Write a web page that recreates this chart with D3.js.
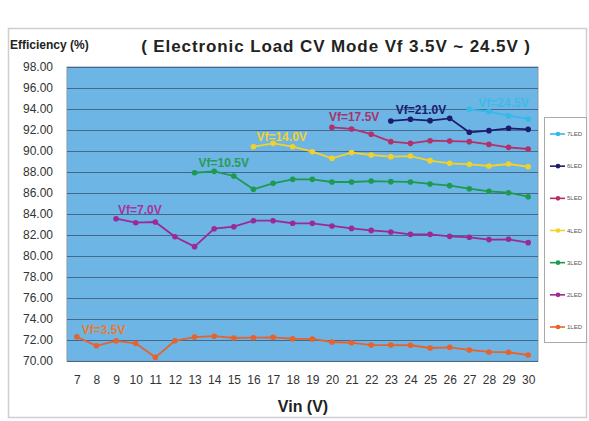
<!DOCTYPE html>
<html>
<head>
<meta charset="utf-8">
<script src="https://cdn.jsdelivr.net/npm/d3@7"></script>
<style>
  body { margin: 0; background: #fff; }
  svg { display: block; font-family: "Liberation Sans", Arial, sans-serif; }
</style>
</head>
<body>
<svg id="chart" width="589" height="421"></svg>
<script>
// Vin categories (V)
var vin = [7, 8, 9, 10, 11, 12, 13, 14, 15, 16, 17, 18, 19, 20, 21, 22, 23, 24, 25, 26, 27, 28, 29, 30];
var yTicks = [70, 72, 74, 76, 78, 80, 82, 84, 86, 88, 90, 92, 94, 96, 98];

// efficiency (%) per LED string, each starts at its own Vin
var led1 = [72.30, 71.45, 71.92, 71.68, 70.35, 71.92, 72.28, 72.36, 72.19, 72.22, 72.25, 72.12,
            72.10, 71.81, 71.74, 71.52, 71.52, 71.50, 71.24, 71.30, 71.05, 70.86, 70.83, 70.57];
var led2 = [83.55, 83.17, 83.24, 81.84, 80.89, 82.60, 82.79, 83.36, 83.36, 83.12, 83.11,
            82.86, 82.63, 82.44, 82.29, 82.06, 82.06, 81.87, 81.78, 81.56, 81.59, 81.27];
var led3 = [87.93, 88.06, 87.62, 86.35, 86.92, 87.30, 87.30, 87.05, 87.05, 87.14, 87.08,
            87.05, 86.86, 86.70, 86.41, 86.16, 86.03, 85.65];
var led4 = [90.41, 90.73, 90.41, 89.93, 89.30, 89.85, 89.62, 89.46, 89.52, 89.08, 88.83,
            88.73, 88.57, 88.76, 88.50];
var led5 = [92.25, 92.10, 91.60, 90.89, 90.73, 90.98, 90.95, 90.89, 90.63, 90.35, 90.19];
var led6 = [92.86, 93.02, 92.89, 93.11, 91.78, 91.94, 92.16, 92.06];
var led7 = [93.97, 93.75, 93.36, 93.05];

var seriesNames = ["1LED", "2LED", "3LED", "4LED", "5LED", "6LED", "7LED"];
var seriesStart = [7, 9, 13, 16, 20, 23, 27];
var seriesLabels = ["Vf=3.5V", "Vf=7.0V", "Vf=10.5V", "Vf=14.0V", "Vf=17.5V", "Vf=21.0V", "Vf=24.5V"];
var seriesValues = [led1, led2, led3, led4, led5, led6, led7];

// styling
var colors = ["#e8622c", "#9c2a96", "#1e9a4e", "#f2d22a", "#b4306a", "#1c1c6e", "#35b9e8"];
var labelColors = ["#ec7a30", "#a8339e", "#2a9a58", "#f0d230", "#a8336a", "#1c1c6e", "#3dbbe8"];
var labelOffset = [[5, 3], [2, 5], [4, 6], [3, 6], [-3, 6], [5, 7], [9, 2]];

var svg = d3.select("#chart");
var plot = { left: 67, right: 538, top: 67, bottom: 361 };

// outer frame
svg.append("rect")
  .attr("x", 8.5).attr("y", 28.5).attr("width", 578).attr("height", 389)
  .attr("fill", "none").attr("stroke", "#cfcfcf").attr("stroke-width", 1.5);

var x = d3.scalePoint().domain(vin).range([plot.left, plot.right]).padding(0.5);
var y = d3.scaleLinear().domain([70, 98]).range([plot.bottom, plot.top]);

svg.append("rect")
  .attr("x", plot.left).attr("y", plot.top)
  .attr("width", plot.right - plot.left).attr("height", plot.bottom - plot.top)
  .attr("fill", "#6cb5e5").attr("stroke", "#8a9aa6").attr("stroke-width", 1);

// gridlines
svg.append("g")
  .attr("transform", "translate(" + plot.left + ",0)")
  .call(d3.axisLeft(y).tickValues(yTicks).tickSize(-(plot.right - plot.left)).tickFormat(""))
  .call(function(g) {
    g.select(".domain").remove();
    g.selectAll("line").attr("stroke", "#44698c").attr("stroke-width", 1.2);
  });

// y tick labels
svg.append("g")
  .attr("transform", "translate(" + plot.left + ",0)")
  .call(d3.axisLeft(y).tickValues(yTicks).tickSize(0).tickPadding(14).tickFormat(d3.format(".2f")))
  .call(function(g) {
    g.select(".domain").remove();
    g.selectAll("text").attr("font-size", 12).attr("fill", "#333")
      .attr("font-family", "Liberation Sans, Arial, sans-serif");
  });

// x tick labels
svg.append("g")
  .attr("transform", "translate(0," + plot.bottom + ")")
  .call(d3.axisBottom(x).tickSize(0).tickPadding(14))
  .call(function(g) {
    g.select(".domain").remove();
    g.selectAll("text").attr("font-size", 12).attr("fill", "#333")
      .attr("font-family", "Liberation Sans, Arial, sans-serif");
  });

// titles
svg.append("text")
  .attr("x", 336).attr("y", 52)
  .attr("text-anchor", "middle")
  .attr("font-size", 17).attr("font-weight", "bold").attr("fill", "#222")
  .style("letter-spacing", "0.9px")
  .text("( Electronic Load CV Mode Vf 3.5V ~ 24.5V )");

svg.append("text")
  .attr("x", 10).attr("y", 49)
  .attr("font-size", 12).attr("font-weight", "bold").attr("fill", "#222")
  .text("Efficiency (%)");

svg.append("text")
  .attr("x", 303).attr("y", 412)
  .attr("text-anchor", "middle")
  .attr("font-size", 16).attr("font-weight", "bold").attr("fill", "#222")
  .text("Vin (V)");

// series
var line = d3.line()
  .x(function(d) { return x(d.v); })
  .y(function(d) { return y(d.e); });

seriesValues.forEach(function(vals, i) {
  var pts = vals.map(function(e, j) { return { v: seriesStart[i] + j, e: e }; });
  var g = svg.append("g");
  g.append("path")
    .datum(pts)
    .attr("d", line)
    .attr("fill", "none")
    .attr("stroke", colors[i])
    .attr("stroke-width", 1.8);
  g.selectAll("circle")
    .data(pts)
    .enter().append("circle")
    .attr("cx", function(d) { return x(d.v); })
    .attr("cy", function(d) { return y(d.e); })
    .attr("r", 2.8)
    .attr("fill", colors[i]);
  g.append("text")
    .attr("x", x(pts[0].v) + labelOffset[i][0])
    .attr("y", y(pts[0].e) - labelOffset[i][1])
    .attr("font-size", 12).attr("font-weight", "bold")
    .attr("fill", labelColors[i])
    .text(seriesLabels[i]);
});

// legend (7LED at top)
var legend = svg.append("g");
legend.append("rect")
  .attr("x", 544.5).attr("y", 117.5).attr("width", 42).attr("height", 225)
  .attr("fill", "#fff").attr("stroke", "#aaa").attr("stroke-width", 1);

var order = d3.range(seriesNames.length).reverse();
var ly = d3.scalePoint().domain(order).range([134, 327]);
order.forEach(function(i) {
  var yy = ly(i);
  legend.append("line")
    .attr("x1", 550).attr("x2", 565).attr("y1", yy).attr("y2", yy)
    .attr("stroke", colors[i]).attr("stroke-width", 1.6);
  legend.append("circle")
    .attr("cx", 558).attr("cy", yy).attr("r", 2.3).attr("fill", colors[i]);
  legend.append("text")
    .attr("x", 567).attr("y", yy + 2)
    .attr("font-size", 6).attr("fill", "#555")
    .text(seriesNames[i]);
});
</script>
</body>
</html>
